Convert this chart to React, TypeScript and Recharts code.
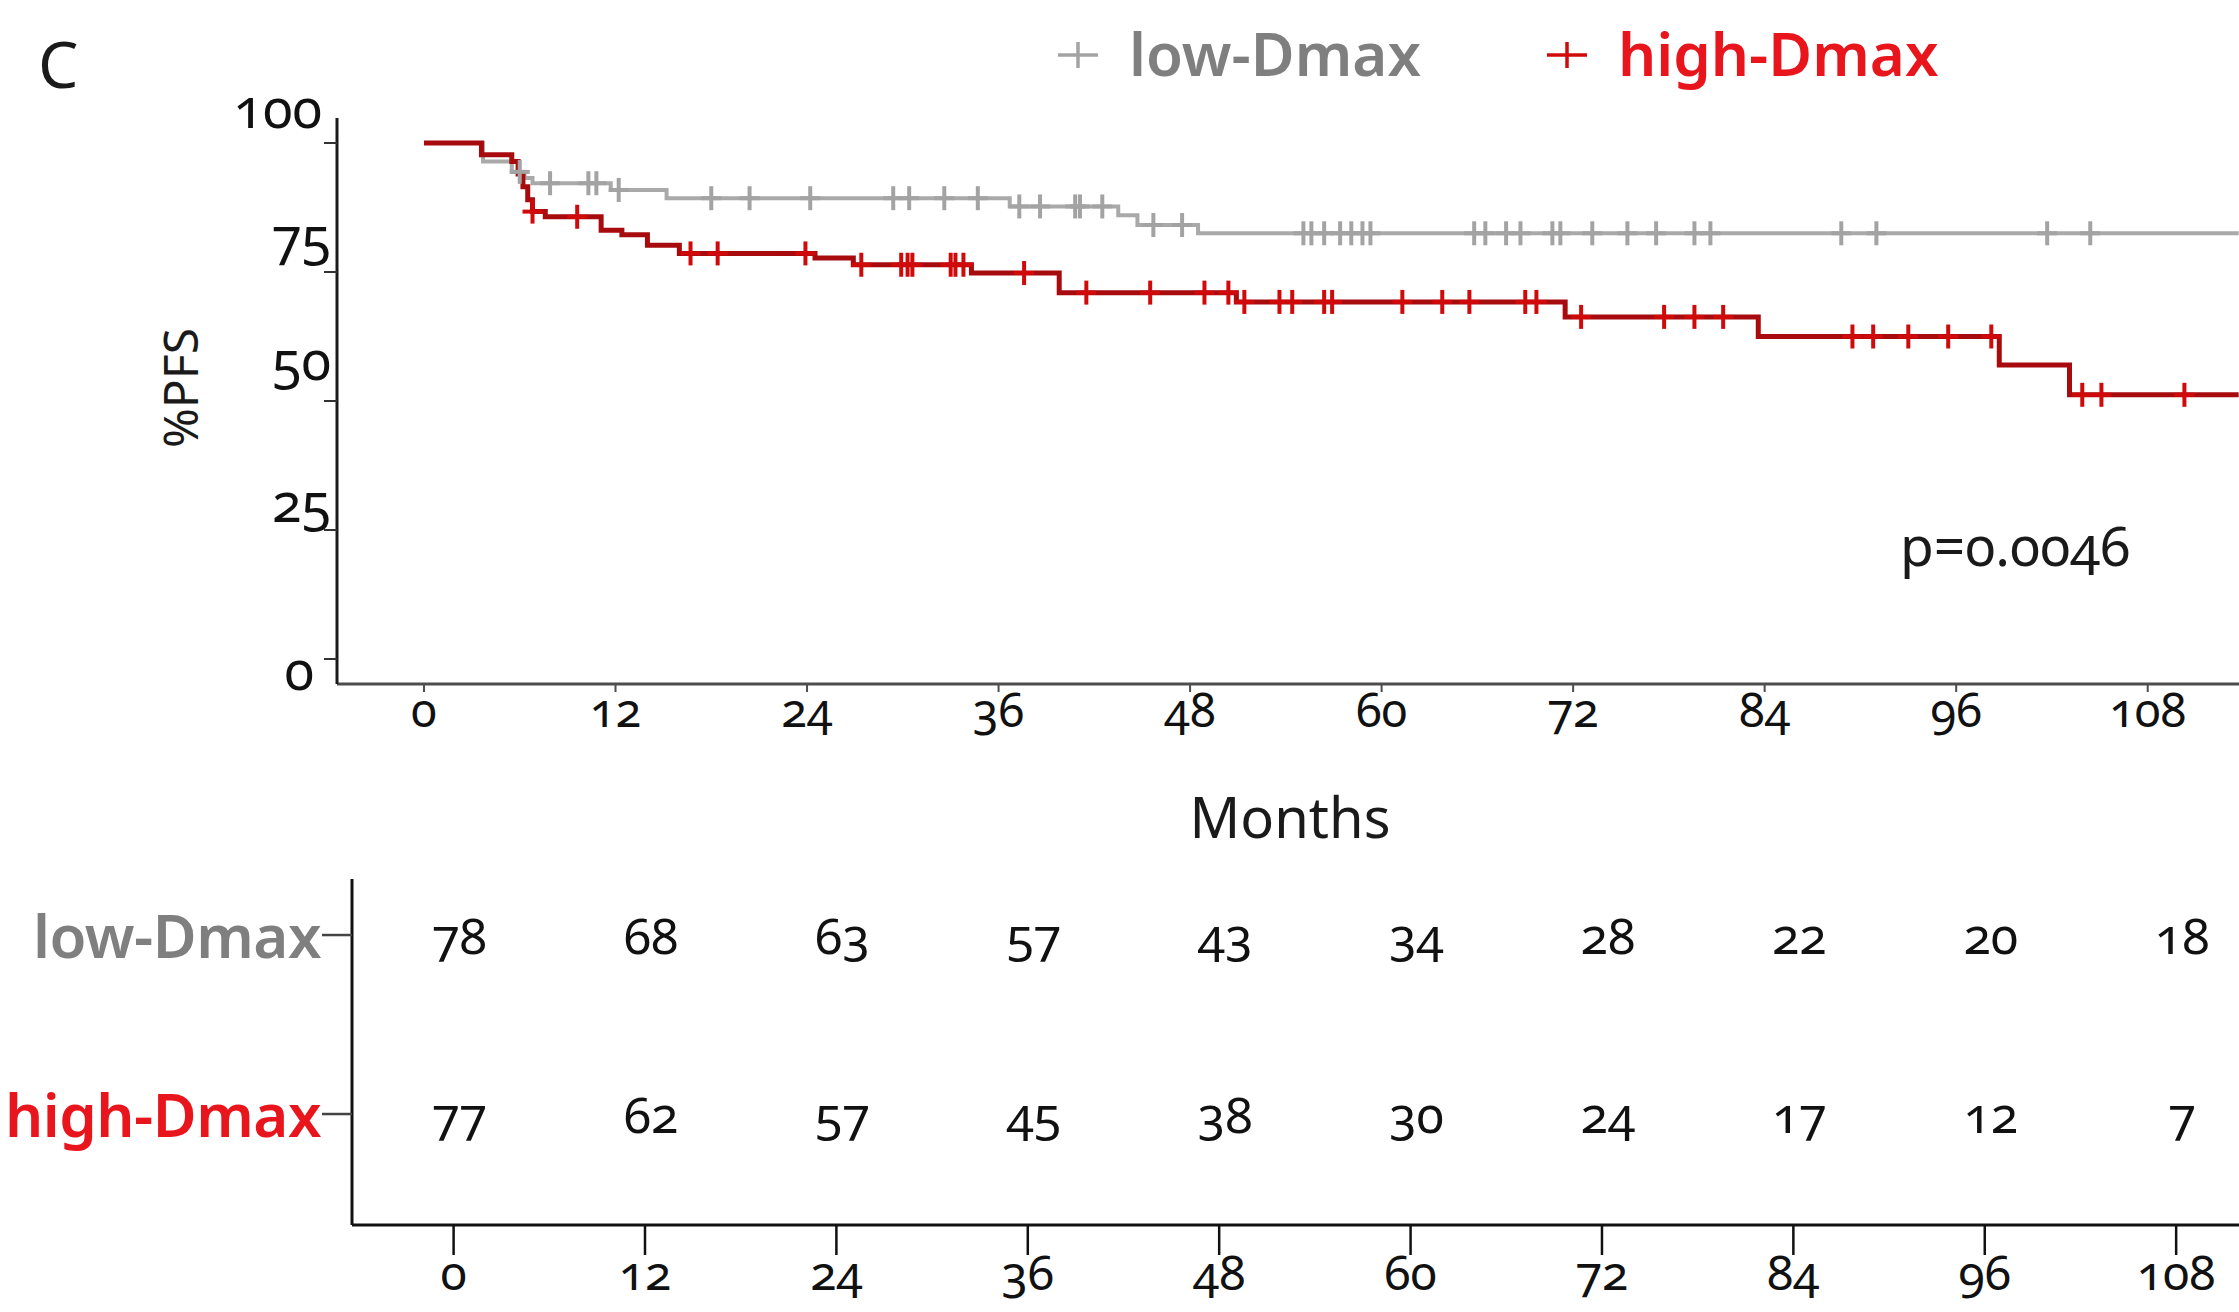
// PFS Kaplan-Meier curves by Dmax group, with numbers-at-risk table underneath

import { ComposedChart, Line, Scatter, XAxis, YAxis } from 'recharts';

const FONT = '"Noto Sans", "Open Sans", sans-serif';

const MONTH_TICKS = [0, 12, 24, 36, 48, 60, 72, 84, 96, 108];
const PFS_TICKS = [0, 25, 50, 75, 100];

// [month, %PFS] at each event; the curve keeps the value until the next entry
const LOW_STEPS: [number, number][] = [
  [0, 100], [3.7, 96.4], [5.5, 94.4], [6.3, 93.2], [6.8, 92.2], [11.7, 90.9],
  [15.2, 89.3], [36.7, 87.7], [43.5, 86.0], [44.7, 84.1], [48.5, 82.5], [113.7, 82.5]
];

const HIGH_STEPS: [number, number][] = [
  [0, 100], [3.6, 97.7], [5.5, 96.4], [5.9, 94.0], [6.2, 91.5], [6.5, 89.0],
  [6.8, 86.7], [7.6, 85.7], [11.1, 83.1], [12.4, 82.2], [14.0, 80.2], [16.0, 78.6],
  [24.5, 77.7], [26.9, 76.4], [34.3, 74.8], [39.8, 71.0], [50.9, 69.2], [71.5, 66.3],
  [83.6, 62.5], [98.7, 57.0], [103.1, 51.2], [113.7, 51.2]
];

// censoring times (months)
const LOW_CENSORED = [
  6.0, 7.9, 10.3, 10.8, 12.2, 18.0, 20.4, 24.2, 29.4, 30.4, 32.6, 34.7, 37.3, 38.6,
  40.8, 41.1, 42.5, 45.7, 47.5, 55.1, 55.6, 56.4, 57.4, 58.1, 58.8, 59.3, 65.8, 66.5,
  67.8, 68.7, 70.7, 71.2, 73.2, 75.4, 77.2, 79.6, 80.6, 88.8, 91.0, 101.7, 104.4
];

const HIGH_CENSORED = [
  6.8, 9.6, 16.7, 18.4, 23.9, 27.4, 29.9, 30.3, 30.6, 33.0, 33.3, 33.8, 37.6, 41.5,
  45.5, 48.9, 50.4, 51.4, 53.6, 54.4, 56.4, 56.9, 61.3, 63.8, 65.5, 69.0, 69.7, 72.5,
  77.7, 79.6, 81.4, 89.5, 90.8, 93.0, 95.5, 98.2, 103.9, 105.1, 110.3
];

// numbers at risk at each MONTH_TICKS entry
const LOW_AT_RISK = [78, 68, 63, 57, 43, 34, 28, 22, 20, 18];
const HIGH_AT_RISK = [77, 62, 57, 45, 38, 30, 24, 17, 12, 7];

const P_VALUE = 'p=0.0046';

const GROUPS = [
  {
    key: 'low', name: 'low-Dmax', row: 1,
    line: '#a9a9a9', mark: '#a3a3a3', text: '#7f7f7f',
    steps: LOW_STEPS, censored: LOW_CENSORED, atRisk: LOW_AT_RISK
  },
  {
    key: 'high', name: 'high-Dmax', row: 0,
    line: '#a80b0e', mark: '#d00a0a', text: '#e8161c',
    steps: HIGH_STEPS, censored: HIGH_CENSORED, atRisk: HIGH_AT_RISK
  }
];

// [dx, dy] nudge of the %PFS tick labels, in px
const Y_LABEL_SHIFT: Record<number, [number, number]> = {
  100: [-2, -36], 75: [7, -37], 50: [7, -42], 25: [7, -29], 0: [-10, 10]
};

function levelAt(steps: [number, number][], t: number): number {
  let s = steps[0][1];
  for (const [time, value] of steps) {
    if (time <= t) s = value;
    else break;
  }
  return s;
}

function Cross({ cx, cy, color, w, h, sw }: { cx: number; cy: number; color: string; w: number; h: number; sw: number }) {
  return (
    <g>
      <line x1={cx - w / 2} y1={cy} x2={cx + w / 2} y2={cy} stroke={color} strokeWidth={sw} />
      <line x1={cx} y1={cy - h / 2} x2={cx} y2={cy + h / 2} stroke={color} strokeWidth={sw} />
    </g>
  );
}

function MonthTick(props: any) {
  const { x, y, payload, size } = props;
  return (
    <text
      x={x}
      y={y}
      dy="0.72em"
      textAnchor="middle"
      fontSize={size}
      fill="#111"
      fontFamily={FONT}
      style={{ fontVariantNumeric: 'oldstyle-nums' }}
    >
      {payload.value}
    </text>
  );
}

function PfsTick(props: any) {
  const { x, y, payload } = props;
  const [dx, dy] = Y_LABEL_SHIFT[payload.value] ?? [0, 0];
  return (
    <text
      x={x + dx}
      y={y + dy}
      textAnchor="end"
      dominantBaseline="central"
      fontSize={54}
      fill="#111"
      fontFamily={FONT}
      style={{ fontVariantNumeric: 'oldstyle-nums' }}
    >
      {payload.value}
    </text>
  );
}

function RowTick(props: any) {
  const { x, y, payload } = props;
  const g = GROUPS.find(d => d.row === payload.value);
  if (!g) return null;
  return (
    <text
      x={x}
      y={y}
      textAnchor="end"
      dominantBaseline="central"
      fontSize={60}
      fontWeight={600}
      fill={g.text}
      fontFamily={FONT}
      letterSpacing={-0.5}
    >
      {g.name}
    </text>
  );
}

export default function App() {
  const W = 2239;

  return (
    <div style={{ position: 'absolute', left: 0, top: 0, width: W, height: 1312, background: '#fff' }}>
      {/* survival curves */}
      <div style={{ position: 'absolute', left: 0, top: 0 }}>
        <ComposedChart width={W} height={760} margin={{ top: 118, right: 0, bottom: 0, left: 0 }}>
          <XAxis
            type="number"
            dataKey="t"
            domain={[-5.45, 113.72]}
            ticks={MONTH_TICKS}
            interval={0}
            allowDataOverflow
            height={76}
            tickSize={8}
            tickMargin={1}
            axisLine={{ stroke: '#4d4d4d', strokeWidth: 3 }}
            tickLine={{ stroke: '#4d4d4d', strokeWidth: 2 }}
            tick={(p: any) => <MonthTick {...p} size={47} />}
          />
          <YAxis
            type="number"
            domain={[-4.84, 104.84]}
            ticks={PFS_TICKS}
            interval={0}
            allowDataOverflow
            width={337}
            tickSize={13}
            tickMargin={0}
            axisLine={{ stroke: '#1a1a1a', strokeWidth: 3 }}
            tickLine={{ stroke: '#333', strokeWidth: 2 }}
            tick={(p: any) => <PfsTick {...p} />}
          />
          {GROUPS.map(g => (
            <Line
              key={`${g.key}-curve`}
              data={g.steps.map(([t, s]) => ({ t, s }))}
              dataKey="s"
              type="stepAfter"
              stroke={g.line}
              strokeWidth={g.key === 'high' ? 5 : 4}
              dot={false}
              activeDot={false}
              isAnimationActive={false}
            />
          ))}
          {GROUPS.map(g => (
            <Scatter
              key={`${g.key}-censor`}
              data={g.censored.map(t => ({ t, s: levelAt(g.steps, t) }))}
              dataKey="s"
              isAnimationActive={false}
              shape={(p: any) => <Cross cx={p.cx} cy={p.cy} color={g.mark} w={20} h={24} sw={4} />}
            />
          ))}
        </ComposedChart>
      </div>

      {/* numbers at risk */}
      <div style={{ position: 'absolute', left: 0, top: 760 }}>
        <ComposedChart width={W} height={552} margin={{ top: 119, right: 0, bottom: 0, left: 0 }}>
          <XAxis
            type="number"
            dataKey="t"
            domain={[-6.37, 111.94]}
            ticks={MONTH_TICKS}
            interval={0}
            allowDataOverflow
            height={87}
            tickSize={30}
            tickMargin={0}
            axisLine={{ stroke: '#111', strokeWidth: 3 }}
            tickLine={{ stroke: '#111', strokeWidth: 2.5 }}
            tick={(p: any) => <MonthTick {...p} size={48} />}
          />
          <YAxis
            type="number"
            domain={[-0.62, 1.313]}
            ticks={[0, 1]}
            interval={0}
            allowDataOverflow
            width={352}
            tickSize={30}
            tickMargin={1}
            axisLine={{ stroke: '#111', strokeWidth: 3 }}
            tickLine={{ stroke: '#444', strokeWidth: 2.5 }}
            tick={(p: any) => <RowTick {...p} />}
          />
          {GROUPS.map(g => (
            <Scatter
              key={`${g.key}-risk`}
              data={MONTH_TICKS.map((t, i) => ({ t, row: g.row, n: g.atRisk[i] }))}
              dataKey="row"
              isAnimationActive={false}
              shape={(p: any) => (
                <text
                  x={p.cx + 6}
                  y={p.cy}
                  textAnchor="middle"
                  dominantBaseline="central"
                  fontSize={50}
                  fill="#111"
                  fontFamily={FONT}
                  style={{ fontVariantNumeric: 'oldstyle-nums' }}
                >
                  {p.payload.n}
                </text>
              )}
            />
          ))}
        </ComposedChart>
      </div>

      {/* panel letter, legend, axis titles, test result */}
      <svg
        width={W}
        height={1312}
        style={{ position: 'absolute', left: 0, top: 0, pointerEvents: 'none' }}
        fontFamily={FONT}
      >
        <text x={38} y={88} fontSize={64} fill="#1a1a1a">C</text>

        {GROUPS.map((g, i) => {
          const crossX = i === 0 ? 1078 : 1567;
          return (
            <g key={`${g.key}-legend`}>
              <Cross cx={crossX} cy={55} color={g.mark} w={40} h={26} sw={3.5} />
              <text x={crossX + 51} y={76} fontSize={60} fontWeight={600} fill={g.text}>
                {g.name}
              </text>
            </g>
          );
        })}

        <text
          x={198}
          y={388}
          transform="rotate(-90 198 388)"
          textAnchor="middle"
          fontSize={48}
          fill="#1a1a1a"
        >
          %PFS
        </text>

        <text x={1290} y={838} textAnchor="middle" fontSize={56} fill="#1a1a1a">Months</text>

        <text x={1900} y={566} fontSize={55} fill="#1a1a1a" style={{ fontVariantNumeric: 'oldstyle-nums' }}>
          {P_VALUE}
        </text>
      </svg>
    </div>
  );
}
